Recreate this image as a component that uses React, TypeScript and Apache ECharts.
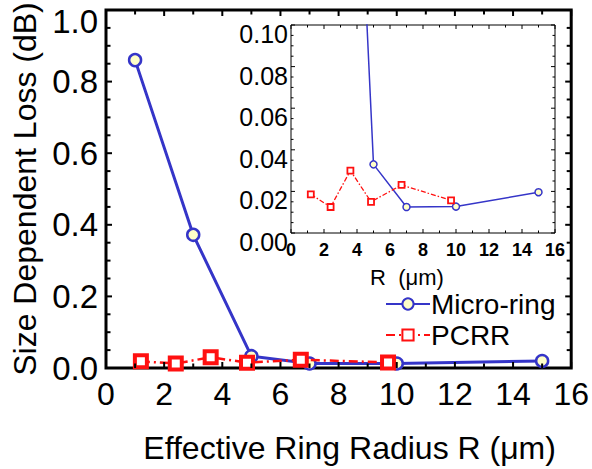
import React, { useEffect, useRef } from "react";
import * as echarts from "echarts";

// Effective ring radius (µm) and size-dependent loss (dB)
const microR = [1, 3, 5, 7, 10, 15];
const microLoss = [0.86, 0.372, 0.033, 0.0125, 0.0127, 0.0196];
const pcrrR = [1.2, 2.4, 3.6, 4.85, 6.7, 9.7];
const pcrrLoss = [0.0186, 0.0125, 0.03, 0.015, 0.0231, 0.0157];

const mainXTicks = [0, 2, 4, 6, 8, 10, 12, 14, 16];
const mainYTicks = [0, 0.2, 0.4, 0.6, 0.8, 1.0];
const insetYTicks = [0, 0.02, 0.04, 0.06, 0.08, 0.1];

// tick-mark stops (major + minor) drawn inside the frames
const xTickStops = [0, 1, 2, 3, 4, 5, 6, 7, 8, 9, 10, 11, 12, 13, 14, 15, 16];
const mainYTickStops = [
  0, 0.05, 0.1, 0.15, 0.2, 0.25, 0.3, 0.35, 0.4, 0.45, 0.5, 0.55, 0.6, 0.65, 0.7, 0.75, 0.8, 0.85,
  0.9, 0.95, 1.0,
];
const insetYTickStops = [
  0, 0.005, 0.01, 0.015, 0.02, 0.025, 0.03, 0.035, 0.04, 0.045, 0.05, 0.055, 0.06, 0.065, 0.07,
  0.075, 0.08, 0.085, 0.09, 0.095, 0.1,
];

const BLUE = "#3535c8";
const RED = "#ff1010";
const FILL = "#ffffc8";
const FONT = "Liberation Sans, Arial, sans-serif";
const DASHDOT = [9, 4, 2, 4];

const pairs = (xs: number[], ys: number[]) => xs.map((x, i) => [x, ys[i]]);

const isMultiple = (v: number, step: number) => Math.abs(v / step - Math.round(v / step)) < 1e-6;

export default function App() {
  const ref = useRef<HTMLDivElement>(null);

  useEffect(() => {
    document.body.style.margin = "0";
    const chart = echarts.init(ref.current!, null, { renderer: "svg" });

    const xMin = mainXTicks[0];
    const xMax = mainXTicks[mainXTicks.length - 1];
    const yMin = mainYTicks[0];
    const yMax = mainYTicks[mainYTicks.length - 1];
    const iyMin = insetYTicks[0];
    const iyMax = insetYTicks[insetYTicks.length - 1];

    const hidden = {
      axisLine: { show: false, onZero: false },
      axisTick: { show: false },
      minorTick: { show: false },
      splitLine: { show: false },
      minorSplitLine: { show: false },
    };

    chart.setOption({
      animation: false,
      textStyle: { fontFamily: FONT },
      grid: [
        {
          left: 106,
          top: 10,
          width: 467,
          height: 360,
          show: true,
          borderColor: "#000",
          borderWidth: 3,
          backgroundColor: "transparent",
        },
        {
          left: 291,
          top: 25,
          width: 264,
          height: 208,
          show: true,
          backgroundColor: "#fff",
          borderColor: "#000",
          borderWidth: 1,
        },
      ],
      xAxis: [
        {
          type: "value",
          gridIndex: 0,
          min: xMin,
          max: xMax,
          interval: 2,
          ...hidden,
          axisLabel: { fontSize: 32, color: "#000", margin: 10, fontFamily: FONT },
          name: "Effective Ring Radius R (\u03bcm)",
          nameLocation: "middle",
          nameGap: 64,
          nameTextStyle: { fontSize: 32, color: "#000", fontFamily: FONT, padding: [0, 0, 0, 22] },
        },
        {
          type: "value",
          gridIndex: 1,
          min: xMin,
          max: xMax,
          interval: 2,
          ...hidden,
          axisLabel: { fontSize: 18, fontWeight: "bold", color: "#000", margin: 8, fontFamily: FONT },
          name: "R  (\u03bcm)",
          nameLocation: "middle",
          nameGap: 33,
          nameTextStyle: { fontSize: 22, color: "#000", fontFamily: FONT, padding: [0, 32, 0, 0] },
        },
      ],
      yAxis: [
        {
          type: "value",
          gridIndex: 0,
          min: yMin,
          max: yMax,
          interval: 0.2,
          ...hidden,
          axisLabel: {
            fontSize: 33,
            color: "#000",
            margin: 8,
            fontFamily: FONT,
            showMaxLabel: false,
            formatter: (v: number) => v.toFixed(1),
          },
          name: "Size Dependent Loss (dB)",
          nameLocation: "middle",
          nameGap: 64,
          nameTextStyle: { fontSize: 32, color: "#000", fontFamily: FONT },
        },
        {
          type: "value",
          gridIndex: 1,
          min: iyMin,
          max: iyMax,
          interval: 0.02,
          ...hidden,
          axisLabel: {
            fontSize: 25,
            color: "#000",
            margin: 3,
            fontFamily: FONT,
            verticalAlign: "top",
            lineHeight: 18,
            formatter: (v: number) => v.toFixed(2),
          },
        },
      ],
      legend: {
        orient: "vertical",
        left: 380,
        top: 285,
        itemWidth: 44,
        itemHeight: 14,
        itemGap: 3,
        data: ["Micro-ring", "PCRR"],
        textStyle: { fontSize: 28, color: "#000", fontFamily: FONT, padding: [0, 0, 0, -4] },
      },
      series: [
        {
          name: "Micro-ring",
          type: "line",
          xAxisIndex: 0,
          yAxisIndex: 0,
          data: pairs(microR, microLoss),
          symbol: "circle",
          symbolSize: 12,
          lineStyle: { color: BLUE, width: 3 },
          itemStyle: { color: FILL, borderColor: BLUE, borderWidth: 2.5 },
          z: 3,
        },
        {
          name: "PCRR",
          type: "line",
          xAxisIndex: 0,
          yAxisIndex: 0,
          data: pairs(pcrrR, pcrrLoss),
          symbol: "rect",
          symbolSize: 12,
          lineStyle: { color: RED, width: 2.5, type: DASHDOT },
          itemStyle: { color: "#fff", borderColor: RED, borderWidth: 4 },
          z: 4,
        },
        {
          name: "Micro-ring",
          type: "line",
          xAxisIndex: 1,
          yAxisIndex: 1,
          data: pairs(microR, microLoss),
          clip: true,
          symbol: "circle",
          symbolSize: 7,
          lineStyle: { color: BLUE, width: 1.5 },
          itemStyle: { color: FILL, borderColor: BLUE, borderWidth: 1.5 },
          z: 7,
        },
        {
          name: "PCRR",
          type: "line",
          xAxisIndex: 1,
          yAxisIndex: 1,
          data: pairs(pcrrR, pcrrLoss),
          clip: true,
          symbol: "rect",
          symbolSize: 6,
          lineStyle: { color: RED, width: 1.3, type: [5, 2, 1.5, 2] },
          itemStyle: { color: "#fff", borderColor: RED, borderWidth: 1.8 },
          z: 8,
        },
      ],
    });

    // Inward tick marks on all four sides, placed through each grid's own scales
    const tickRects = (
      gridIndex: number,
      xStops: number[],
      yStops: number[],
      yLo: number,
      yHi: number,
      xMajor: number,
      yMajor: number,
      majorLen: number,
      minorLen: number,
      w: number
    ) => {
      const out: any[] = [];
      const px = (p: number[]) => chart.convertToPixel({ gridIndex } as any, p) as number[];
      xStops.forEach((v) => {
        const len = isMultiple(v, xMajor) ? majorLen : minorLen;
        const b = px([v, yLo]);
        const t = px([v, yHi]);
        out.push({ type: "rect", z: 100, silent: true, shape: { x: b[0] - w / 2, y: b[1] - len, width: w, height: len }, style: { fill: "#000" } });
        out.push({ type: "rect", z: 100, silent: true, shape: { x: t[0] - w / 2, y: t[1], width: w, height: len }, style: { fill: "#000" } });
      });
      yStops.forEach((v) => {
        const len = isMultiple(v, yMajor) ? majorLen : minorLen;
        const l = px([xMin, v]);
        const r = px([xMax, v]);
        out.push({ type: "rect", z: 100, silent: true, shape: { x: l[0], y: l[1] - w / 2, width: len, height: w }, style: { fill: "#000" } });
        out.push({ type: "rect", z: 100, silent: true, shape: { x: r[0] - len, y: r[1] - w / 2, width: len, height: w }, style: { fill: "#000" } });
      });
      return out;
    };

    chart.setOption({
      graphic: [
        {
          type: "text",
          x: 98,
          y: 21,
          z: 100,
          style: {
            text: yMax.toFixed(1),
            fontSize: 33,
            fontFamily: FONT,
            fill: "#000",
            align: "right",
            verticalAlign: "middle",
          },
        },
        ...tickRects(0, xTickStops, mainYTickStops, yMin, yMax, 2, 0.2, 6, 4.5, 2),
        ...tickRects(1, xTickStops, insetYTickStops, iyMin, iyMax, 2, 0.02, 4, 2.5, 1),
      ],
    });

    return () => chart.dispose();
  }, []);

  return <div ref={ref} style={{ width: 592, height: 469 }} />;
}
